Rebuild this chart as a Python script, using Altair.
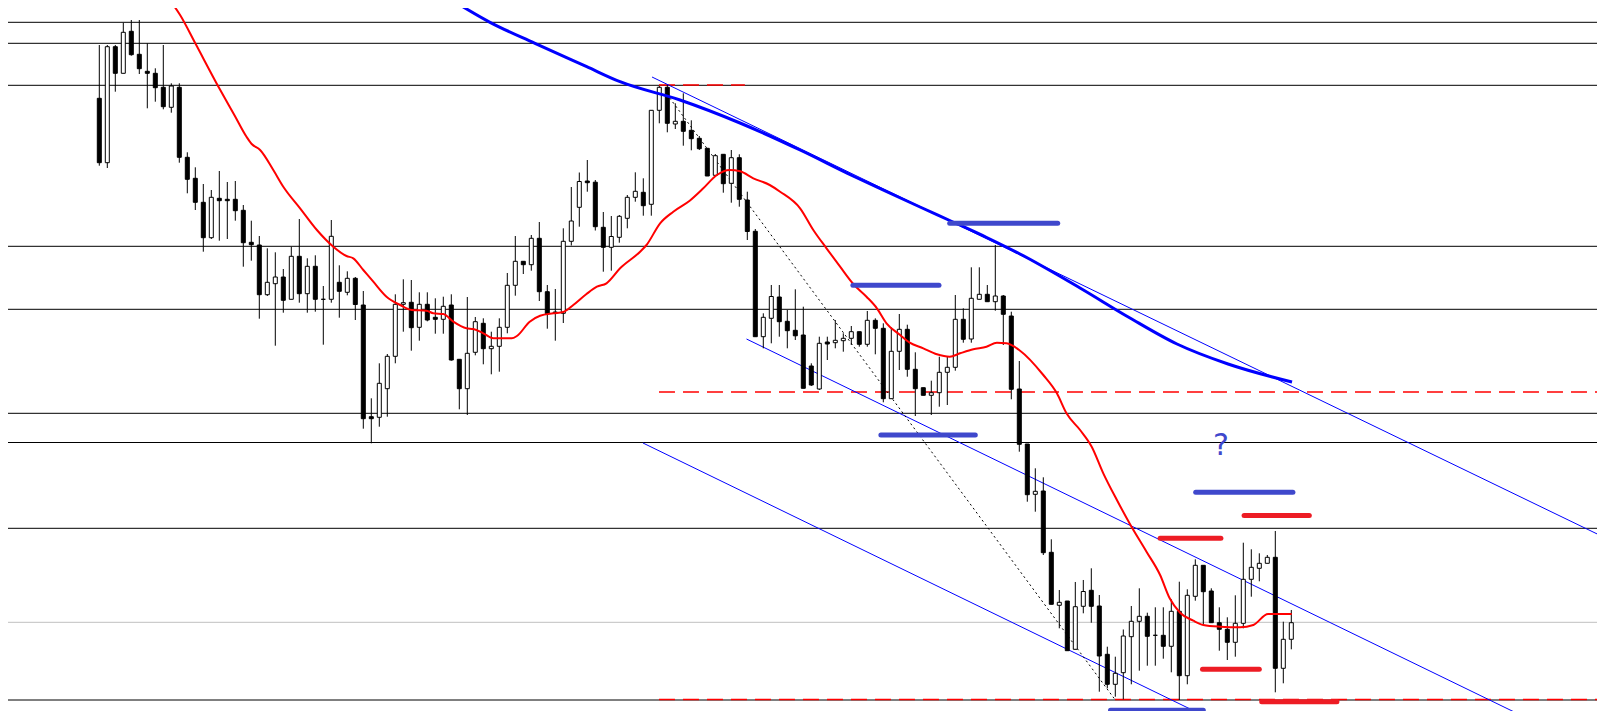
import altair as alt
import pandas as pd

# ---- candle data (price units) ----
opens = [701.7, 637.3, 753.3, 726.7, 768.7, 745.7, 728.7, 726.7, 712.7, 692.7,
         712.7, 642.7, 621.7, 597.7, 562.3, 601.7, 600.7, 600.7, 589.7, 557.7,
         555.0, 505.3, 516.3, 523.0, 500.7, 543.7, 506.3, 533.7, 500.7, 500.7,
         517.7, 507.7, 521.7, 495.0, 383.3, 382.7, 411.3, 443.7, 495.7, 497.7,
         472.7, 495.7, 482.7, 480.7, 495.0, 440.7, 411.3, 447.7, 476.7, 451.3,
         453.7, 472.7, 514.7, 538.7, 535.3, 561.7, 508.3, 488.0, 486.7, 558.7,
         592.7, 619.0, 617.8, 572.7, 552.7, 562.7, 581.7, 602.7, 607.7, 595.7,
         689.7, 712.7, 676.0, 678.7, 669.7, 661.7, 651.7, 624.7, 645.7, 616.7,
         642.3, 600.0, 568.7, 463.3, 481.7, 503.0, 478.7, 469.7, 465.0, 434.0,
         411.0, 458.0, 457.3, 459.3, 461.7, 468.3, 455.7, 479.7, 471.7, 401.3,
         448.7, 470.7, 430.7, 412.3, 404.7, 407.3, 427.7, 432.7, 480.7, 461.0,
         500.7, 505.7, 498.3, 504.0, 484.0, 411.0, 356.0, 305.7, 309.0, 247.7,
         194.7, 199.0, 150.7, 193.7, 209.7, 194.0, 145.7, 115.7, 127.3, 163.3,
         178.7, 183.7, 164.7, 164.7, 153.7, 188.7, 124.3, 203.7, 234.7, 209.0,
         177.3, 170.7, 157.7, 176.7, 220.7, 231.7, 236.7, 242.7, 131.7, 160.7]
highs = [755.0, 755.0, 755.0, 777.3, 780.0, 780.0, 756.7, 731.7, 755.0, 716.7,
         716.7, 647.7, 632.7, 616.0, 610.0, 629.0, 618.0, 619.0, 595.0, 579.3,
         564.0, 551.7, 547.7, 531.0, 553.3, 581.0, 541.7, 544.7, 514.0, 580.0,
         534.7, 528.7, 523.0, 509.0, 401.7, 436.7, 446.0, 505.7, 520.7, 520.0,
         507.7, 507.7, 501.7, 503.3, 505.7, 440.7, 503.0, 483.0, 481.7, 468.3,
         481.7, 527.0, 564.0, 538.7, 565.0, 578.0, 515.0, 511.0, 571.7, 613.0,
         627.5, 640.0, 620.0, 588.0, 584.0, 585.0, 605.0, 627.7, 621.7, 689.7,
         714.0, 715.0, 696.7, 706.7, 679.7, 664.0, 651.7, 646.0, 645.7, 650.0,
         645.7, 608.3, 571.0, 486.7, 515.0, 515.0, 490.0, 510.7, 493.3, 436.7,
         463.3, 463.3, 480.0, 466.7, 474.0, 468.3, 489.0, 481.7, 476.7, 472.7,
         486.0, 475.3, 447.7, 412.3, 419.3, 443.3, 443.3, 505.0, 491.7, 532.7,
         532.7, 515.0, 555.0, 505.0, 488.3, 439.0, 356.0, 331.7, 322.7, 260.7,
         210.0, 199.0, 218.0, 220.0, 231.7, 205.0, 153.3, 143.3, 170.5, 194.0,
         211.7, 187.3, 192.7, 192.7, 200.7, 218.3, 210.7, 240.7, 234.7, 211.7,
         192.7, 182.7, 204.7, 257.3, 250.7, 246.7, 245.0, 269.0, 178.3, 190.0]
lows = [634.3, 632.0, 708.3, 726.7, 744.3, 726.0, 691.7, 698.3, 690.7, 687.3,
        637.3, 606.7, 590.0, 548.3, 561.0, 559.3, 561.0, 579.3, 533.3, 539.3,
        481.3, 504.0, 454.3, 487.3, 500.7, 497.3, 487.3, 488.3, 455.3, 497.3,
        482.3, 504.7, 480.0, 371.3, 356.7, 373.3, 383.3, 436.7, 468.3, 449.3,
        459.3, 478.7, 466.3, 466.3, 439.3, 390.7, 385.0, 444.7, 435.7, 425.7,
        428.3, 466.7, 504.3, 526.0, 529.3, 499.0, 471.3, 459.3, 477.0, 554.5,
        573.3, 608.3, 569.5, 528.3, 529.3, 557.3, 571.7, 598.3, 584.3, 584.3,
        676.7, 667.7, 671.0, 654.3, 649.7, 650.0, 624.0, 623.0, 607.3, 597.3,
        593.3, 560.0, 463.3, 451.7, 456.7, 463.3, 451.7, 460.0, 411.7, 414.0,
        410.0, 440.0, 451.7, 448.3, 455.0, 453.3, 453.3, 445.7, 397.7, 401.3,
        430.0, 423.3, 384.0, 404.7, 385.0, 393.3, 395.0, 429.3, 457.3, 457.3,
        500.7, 498.3, 489.3, 455.0, 400.7, 348.3, 298.3, 288.3, 245.0, 195.7,
        171.7, 149.3, 150.7, 186.7, 177.3, 108.3, 111.7, 103.3, 100.7, 115.7,
        129.3, 134.3, 134.3, 141.3, 127.7, 100.0, 115.7, 199.3, 175.5, 177.3,
        149.3, 140.0, 143.3, 171.7, 203.3, 218.7, 236.7, 107.7, 116.7, 150.7]
closes = [637.3, 753.3, 726.7, 767.7, 745.3, 731.3, 726.7, 712.3, 693.3, 714.0,
          642.7, 620.7, 597.7, 562.3, 602.7, 599.3, 599.3, 589.3, 557.3, 555.3,
          505.3, 517.7, 523.0, 499.7, 543.7, 506.3, 533.7, 500.7, 500.7, 563.7,
          508.7, 521.7, 495.5, 381.3, 381.3, 416.7, 443.7, 495.7, 497.3, 472.3,
          495.7, 480.0, 480.7, 493.7, 440.0, 411.3, 446.7, 478.3, 451.3, 453.7,
          472.7, 514.7, 538.7, 535.3, 561.7, 508.3, 486.3, 487.0, 558.7, 579.0,
          618.5, 617.3, 573.3, 552.7, 563.5, 583.7, 602.7, 608.7, 594.3, 689.7,
          712.7, 676.7, 678.7, 668.7, 661.3, 651.3, 624.0, 644.3, 616.3, 642.3,
          600.7, 568.5, 463.3, 482.7, 503.5, 478.3, 469.3, 464.2, 411.7, 415.0,
          456.7, 456.0, 459.7, 461.7, 468.3, 455.7, 479.7, 471.7, 401.3, 448.7,
          470.7, 430.7, 411.3, 404.7, 407.3, 427.7, 432.7, 480.7, 460.7, 501.7,
          505.7, 498.3, 504.0, 485.7, 410.7, 355.7, 305.3, 308.7, 247.3, 195.7,
          197.7, 149.3, 193.3, 208.5, 193.7, 144.0, 115.7, 126.7, 164.0, 178.7,
          183.7, 163.7, 164.7, 153.7, 188.7, 124.3, 204.7, 234.7, 208.3, 177.3,
          170.7, 157.7, 176.7, 220.7, 232.7, 236.7, 242.7, 131.7, 160.7, 177.3]

# ---- red moving average ----
ma_idx = [9.8, 11.1, 13.0, 16.0, 18.0, 19.4, 20.05, 21.1, 22.75, 24.0, 26.1, 28.2,
          30.25, 31.9, 32.75, 34.0, 35.25, 36.9, 38.6, 40.05, 41.9, 42.75, 44.0,
          45.25, 46.9, 47.75, 49.0, 50.25, 52.55, 53.2, 54.8, 56.1, 57.75, 59.0,
          60.25, 61.9, 63.2, 64.4, 66.1, 68.6, 69.4, 71.1, 72.75, 74.8, 76.5,
          78.2, 79.8, 81.1, 82.75, 84.8, 86.1, 88.6, 90.25, 91.9, 93.6, 95.25,
          96.9, 98.2, 99.4, 101.1, 102.3, 104.0, 105.7, 107.3, 108.6, 110.25,
          111.9, 113.2, 114.4, 116.1, 119.0, 120.7, 121.9, 123.6, 125.05, 126.5,
          128.2, 129.9, 131.9, 133.6, 134.8, 136.1, 137.75, 139.0, 141.1, 143.6,
          145.25, 147.1, 148.6, 150.05]
ma_val = [800.0, 785.0, 756.7, 711.7, 683.3, 663.3, 656.0, 650.0, 630.0, 613.3,
          591.7, 570.0, 553.3, 544.0, 541.7, 530.0, 518.3, 503.3, 495.0, 490.0,
          489.3, 486.7, 486.0, 478.3, 471.7, 471.0, 466.7, 461.7, 461.7, 464.0,
          478.3, 484.3, 486.7, 488.0, 495.0, 506.0, 513.3, 516.7, 531.7, 548.3,
          555.0, 576.7, 588.3, 599.3, 611.7, 625.0, 630.0, 628.7, 621.7, 615.0,
          608.3, 591.7, 570.0, 551.7, 533.3, 516.0, 503.3, 491.7, 476.7, 465.0,
          457.3, 451.7, 445.7, 443.3, 446.7, 450.7, 453.3, 457.3, 456.7, 449.3,
          425.0, 406.7, 386.7, 370.0, 353.3, 326.7, 300.0, 275.0, 248.3, 225.0,
          201.7, 187.3, 179.3, 175.0, 173.3, 172.7, 175.0, 186.0, 186.0, 186.0]

# ---- long (blue) moving average ----
bma_idx = [45.05, 49.84, 55.46, 61.93, 66.09, 73.59, 81.09, 88.59, 95.21, 99.43,
           103.59, 107.71, 111.93, 116.09, 123.59, 129.84, 135.71, 142.09, 150.09]
bma_val = [800.0, 777.7, 756.7, 733.3, 718.3, 700.0, 677.0, 650.0, 624.0, 608.3,
           593.0, 578.0, 562.5, 546.0, 512.0, 482.0, 456.0, 436.0, 418.0]

# ---- horizontal levels ----
black_levels = [777.7, 756.7, 714.7, 553.7, 490.7, 386.7, 357.5, 271.7, 100.0]
grey_levels = [177.7]
red_dashed_level = [715.0, 408.0, 100.5]
red_dashed_from = [70.96, 70.96, 70.96]
red_dashed_to = [81.7, 189.2, 189.2]

# ---- trend lines ----
trend_names = ["upper", "middle", "lower", "dotted"]
trend_x1 = [70.09, 81.9, 68.96, 72.3]
trend_y1 = [723.0, 461.0, 357.0, 702.0]
trend_x2 = [189.2, 180.7, 140.96, 128.0]
trend_y2 = [262.3, 77.0, 77.0, 100.0]

# ---- marker segments ----
seg_color = ["#3F48CC", "#3F48CC", "#3F48CC", "#3F48CC", "#3F48CC",
             "#ED1C24", "#ED1C24", "#ED1C24", "#ED1C24"]
seg_level = [576.7, 514.7, 365.0, 307.7, 89.7, 284.5, 261.7, 130.7, 98.3]
seg_from = [107.3, 95.2, 98.7, 138.05, 127.4, 144.1, 133.6, 138.9, 146.3]
seg_to = [120.8, 105.96, 110.5, 150.2, 139.0, 152.25, 141.2, 146.0, 155.7]

note_text = ["?"]
note_idx = [141.2]
note_val = [354.0]

# ---------------------------------------------------------------
xs = alt.Scale(domain=[-10.4125, 188.2125], nice=False, zero=False)
ys = alt.Scale(domain=[89, 792], nice=False, zero=False)

def X(f):
    return alt.X(f, type="quantitative", scale=xs, axis=None)

def Y(f):
    return alt.Y(f, type="quantitative", scale=ys, axis=None)

candles = pd.DataFrame({"open": opens, "high": highs, "low": lows, "close": closes})
candles["i"] = range(1, len(candles) + 1)
candles["x1"] = candles["i"] - 0.25
candles["x2"] = candles["i"] + 0.25
candles["fill"] = ["white" if c > o else "black" for o, c in zip(opens, closes)]

ma = pd.DataFrame({"i": ma_idx, "v": ma_val})
bma = pd.DataFrame({"i": bma_idx, "v": bma_val})
lv = pd.DataFrame({"v": black_levels})
gv = pd.DataFrame({"v": grey_levels})
rd = pd.DataFrame({"v": red_dashed_level, "x1": red_dashed_from, "x2": red_dashed_to})
tr = pd.DataFrame({"name": trend_names, "x1": trend_x1, "y1": trend_y1,
                   "x2": trend_x2, "y2": trend_y2})
seg = pd.DataFrame({"c": seg_color, "v": seg_level, "x1": seg_from, "x2": seg_to})
note = pd.DataFrame({"t": note_text, "i": note_idx, "v": note_val})

levels = alt.Chart(lv).mark_rule(color="black", strokeWidth=1).encode(y=Y("v"))
grey = alt.Chart(gv).mark_rule(color="#c0c0c0", strokeWidth=1).encode(y=Y("v"))
reddash = alt.Chart(rd).mark_rule(color="#ff0000", strokeWidth=1.3, strokeDash=[16, 8], clip=True).encode(
    x=X("x1"), x2="x2", y=Y("v"))
thin = alt.Chart(tr[tr["name"] != "dotted"]).mark_rule(color="#0000ff", strokeWidth=1, clip=True).encode(
    x=X("x1"), x2="x2", y=Y("y1"), y2="y2")
dotted = alt.Chart(tr[tr["name"] == "dotted"]).mark_rule(color="black", strokeWidth=1, strokeDash=[2, 3], clip=True).encode(
    x=X("x1"), x2="x2", y=Y("y1"), y2="y2")
wicks = alt.Chart(candles).mark_rule(color="black", strokeWidth=1).encode(
    x=X("i"), y=Y("low"), y2="high")
bodies = alt.Chart(candles).mark_bar(stroke="black", strokeWidth=1).encode(
    x=X("x1"), x2="x2", y=Y("open"), y2="close",
    fill=alt.Fill("fill:N", scale=None))
ma_line = alt.Chart(ma).mark_line(color="#ff0000", strokeWidth=2, clip=True, interpolate="monotone").encode(
    x=X("i"), y=Y("v"))
bma_line = alt.Chart(bma).mark_line(color="#0000ff", strokeWidth=3, clip=True, interpolate="monotone").encode(
    x=X("i"), y=Y("v"))
segs = alt.Chart(seg).mark_rule(strokeWidth=5, strokeCap="round", clip=True).encode(
    x=X("x1"), x2="x2", y=Y("v"), color=alt.Color("c:N", scale=None))
txt = alt.Chart(note).mark_text(fontSize=30, color="#3F48CC", font="DejaVu Sans", baseline="middle").encode(
    x=X("i"), y=Y("v"), text="t:N")

chart = alt.layer(levels, grey, reddash, thin, dotted, wicks, bodies, ma_line, bma_line, segs, txt).properties(
    width=1589, height=703, padding=0, autosize="none"
).configure_view(stroke=None)

chart.save("out.html", embed_options={"renderer": "svg", "actions": False})
